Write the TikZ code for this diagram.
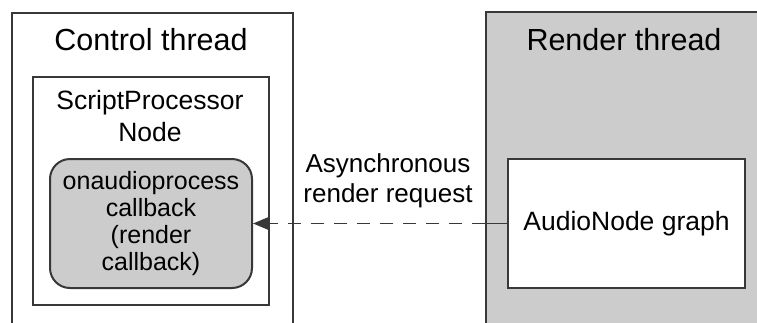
\documentclass[tikz,border=0pt]{standalone}
\usepackage{fontspec}
\setmainfont{Liberation Sans}
\usetikzlibrary{arrows.meta}
\definecolor{threadgray}{RGB}{204,204,204}
\definecolor{edgegray}{RGB}{56,56,56}
\tikzset{
  box/.style={draw=edgegray,line width=2pt},
  headtext/.style={font=\fontsize{30.5}{36}\selectfont},
  bodytext/.style={font=\fontsize{26.5}{32}\selectfont,align=center},
}
\begin{document}
\begin{tikzpicture}[x=1pt,y=-1pt]
                \useasboundingbox (0,0) rectangle (757,322);
                \clip (0,0) rectangle (757,322);
                \node[box,minimum width=281pt,minimum height=340pt,anchor=north west] (control) at (11,12) {};
                \node[box,fill=threadgray,minimum width=290pt,minimum height=340pt,anchor=north west] (render) at (485,11) {};
                \node[headtext,anchor=base] (controllabel) at (151,50) {Control thread};
                \node[headtext,anchor=base] (renderlabel) at (624,50) {Render thread};
                \node[box,minimum width=236pt,minimum height=228pt,anchor=north west] (script) at (32,76) {};
                \node[bodytext] (scriptlabel) at (150,116.5) {ScriptProcessor\\Node};
                \node[box,fill=threadgray,rounded corners=20pt,minimum width=202pt,minimum height=129pt,bodytext,font=\fontsize{25}{27}\selectfont] (callback) at (151,223.5) {onaudioprocess\\callback\\(render\\callback)};
                \node[box,fill=white,minimum width=237pt,minimum height=129pt,bodytext] (graph) at (626.5,223.5) {AudioNode graph};
                \node[bodytext,font=\fontsize{26}{30}\selectfont] (request) at (388,181) {Asynchronous\\render request};
                \coordinate (gate) at (render.west |- graph.west);
                \draw[edgegray,line width=1.8pt] (graph.west) -- (gate);
                \draw[edgegray,line width=1.8pt,dash pattern=on 13pt off 10pt,-{Triangle[length=15pt,width=12pt]}] (gate) -- (callback.east);
            \end{tikzpicture}
\end{document}
